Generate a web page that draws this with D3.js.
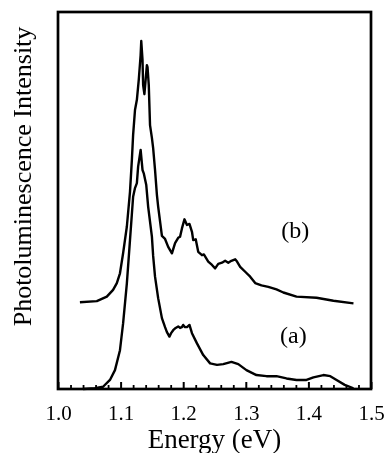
<!DOCTYPE html>
<html>
<head>
<meta charset="utf-8">
<script src="https://cdnjs.cloudflare.com/ajax/libs/d3/7.8.5/d3.min.js"></script>
<style>
  body { margin: 0; background: #fff; }
  svg { display: block; font-family: "Liberation Serif", "Times New Roman", serif; will-change: transform; }
  text { fill: #000; -webkit-font-smoothing: antialiased; }
</style>
</head>
<body>
<svg id="chart" width="385" height="453"></svg>
<script>
// spectrum (a), energy in eV
var energyA = [1.040, 1.059, 1.072, 1.083, 1.091, 1.099, 1.104, 1.110, 1.115, 1.120,
  1.123, 1.126, 1.128, 1.132, 1.135, 1.137, 1.141, 1.144, 1.150, 1.152,
  1.155, 1.160, 1.166, 1.171, 1.174, 1.178, 1.181, 1.184, 1.188, 1.192,
  1.195, 1.198, 1.200, 1.203, 1.206, 1.210, 1.214, 1.222, 1.232, 1.243,
  1.254, 1.264, 1.277, 1.288, 1.301, 1.317, 1.333, 1.349, 1.365, 1.381,
  1.397, 1.408, 1.424, 1.435, 1.445, 1.458, 1.472];
var intensityA = [0.0, 0.2, 0.6, 2.4, 5.0, 10.3, 17.4, 28.0, 39.5, 51.0,
  53.3, 54.6, 59.0, 63.4, 58.1, 57.2, 54.1, 48.4, 40.4, 35.3,
  29.8, 24.1, 18.8, 16.4, 15.1, 13.9, 14.9, 15.6, 16.2, 16.6,
  16.2, 16.4, 17.0, 16.4, 16.4, 17.0, 14.8, 12.1, 9.0, 6.8,
  6.4, 6.6, 7.2, 6.6, 5.0, 3.7, 3.4, 3.4, 2.8, 2.4,
  2.4, 3.1, 3.7, 3.4, 2.4, 1.1, 0.2];

// spectrum (b), offset upward
var energyB = [1.035, 1.062, 1.078, 1.088, 1.094, 1.099, 1.104, 1.110, 1.115, 1.118,
  1.120, 1.123, 1.126, 1.129, 1.132, 1.133, 1.135, 1.136, 1.138, 1.140,
  1.142, 1.143, 1.145, 1.147, 1.150, 1.152, 1.155, 1.158, 1.160, 1.166,
  1.171, 1.176, 1.182, 1.187, 1.192, 1.195, 1.198, 1.202, 1.206, 1.210,
  1.214, 1.216, 1.220, 1.224, 1.230, 1.233, 1.240, 1.246, 1.251, 1.256,
  1.262, 1.267, 1.272, 1.277, 1.283, 1.286, 1.291, 1.299, 1.307, 1.315,
  1.325, 1.336, 1.349, 1.360, 1.381, 1.413, 1.440, 1.472];
var intensityB = [23.0, 23.3, 24.5, 26.3, 28.1, 30.7, 36.0, 43.1, 52.3, 60.7,
  67.4, 74.0, 76.7, 82.0, 88.6, 92.3, 87.3, 80.6, 78.2, 82.0,
  85.9, 85.4, 80.6, 70.0, 66.6, 63.9, 58.1, 51.5, 48.4, 40.6,
  39.8, 37.7, 36.0, 38.7, 40.1, 40.4, 42.6, 45.0, 43.5, 43.8,
  41.7, 39.5, 39.7, 36.4, 35.5, 35.7, 33.8, 32.9, 32.0, 33.2,
  33.5, 34.0, 33.5, 34.0, 34.4, 33.8, 32.4, 31.1, 29.8, 28.1,
  27.5, 27.1, 26.4, 25.6, 24.5, 24.2, 23.4, 22.7];

var majorTicks = [1.0, 1.1, 1.2, 1.3, 1.4, 1.5];
var curveLabels = ["(a)", "(b)"];

var svg = d3.select("#chart");

// plot box
var boxL = 58, boxR = 371, boxT = 12, boxB = 389;

var x = d3.scaleLinear().domain([1.0, 1.5]).range([boxL, boxR]);
var y = d3.scaleLinear().domain([0, 100]).range([boxB, boxT]);

// minor ticks every 0.02 eV
var minorTicks = d3.range(0, 26).map(function (i) { return +(1.0 + i * 0.02).toFixed(2); })
  .filter(function (v) { return majorTicks.indexOf(v) < 0; });

var minorAxis = d3.axisBottom(x).tickValues(minorTicks).tickSize(-4).tickFormat("");
svg.append("g")
  .attr("transform", "translate(0," + boxB + ")")
  .call(minorAxis)
  .call(function (g) { g.select(".domain").remove(); })
  .selectAll("line").attr("stroke", "#000").attr("stroke-width", 1.8);

var majorAxis = d3.axisBottom(x).tickValues(majorTicks).tickSize(-7).tickPadding(16)
  .tickFormat(d3.format(".1f"));
var gx = svg.append("g")
  .attr("transform", "translate(0," + boxB + ")")
  .call(majorAxis);
gx.select(".domain").remove();
gx.selectAll("line").attr("stroke", "#000").attr("stroke-width", 2);
gx.selectAll("text")
  .attr("font-family", "Liberation Serif, Times New Roman, serif")
  .attr("font-size", 21).attr("fill", "#000");

// frame
svg.append("rect")
  .attr("x", boxL).attr("y", boxT)
  .attr("width", boxR - boxL).attr("height", boxB - boxT)
  .attr("fill", "none").attr("stroke", "#000").attr("stroke-width", 2.7);

// curves
var line = d3.line()
  .x(function (d) { return x(d[0]); })
  .y(function (d) { return y(d[1]); });

var seriesA = d3.zip(energyA, intensityA);
var seriesB = d3.zip(energyB, intensityB);

[seriesA, seriesB].forEach(function (s) {
  svg.append("path")
    .datum(s)
    .attr("d", line)
    .attr("fill", "none")
    .attr("stroke", "#000")
    .attr("stroke-width", 2.4)
    .attr("stroke-linejoin", "round");
});

// curve labels
svg.append("text")
  .attr("x", x(1.376)).attr("y", y(14.3)).attr("dy", "0.35em")
  .attr("text-anchor", "middle").attr("font-size", 24)
  .text(curveLabels[0]);
svg.append("text")
  .attr("x", x(1.379)).attr("y", y(42.2)).attr("dy", "0.35em")
  .attr("text-anchor", "middle").attr("font-size", 24)
  .text(curveLabels[1]);

// axis titles
svg.append("text")
  .attr("x", (boxL + boxR) / 2).attr("y", 448)
  .attr("text-anchor", "middle").attr("font-size", 27)
  .text("Energy (eV)");

svg.append("text")
  .attr("transform", "translate(31," + ((boxT + boxB) / 2 - 24) + ") rotate(-90)")
  .attr("text-anchor", "middle").attr("font-size", 26)
  .text("Photoluminescence Intensity");
</script>
</body>
</html>
